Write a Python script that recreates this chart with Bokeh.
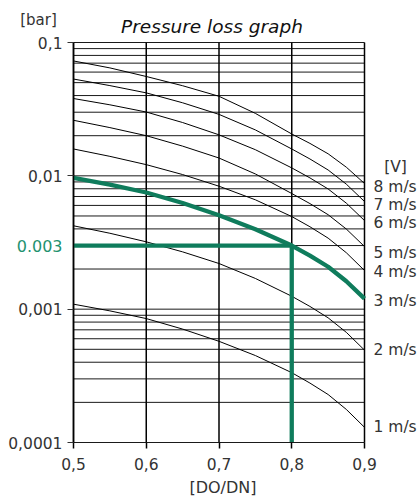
import math
from bokeh.plotting import figure
from bokeh.models import Range1d, FixedTicker, CustomJSTickFormatter, Label
from bokeh.embed import file_html
from bokeh.resources import INLINE

# ---- data ----
ratio = [0.5, 0.55, 0.6, 0.65, 0.7, 0.75, 0.8, 0.825, 0.85, 0.875, 0.9]
loss_8ms = [0.0727, 0.0645, 0.0556, 0.0474, 0.0395, 0.0294, 0.0206, 0.01751, 0.01463, 0.01161, 0.00876]
loss_7ms = [0.0532, 0.0475, 0.0419, 0.0353, 0.0289, 0.0221, 0.0159, 0.01338, 0.01106, 0.00866, 0.00642]
loss_6ms = [0.0380, 0.0341, 0.0301, 0.0251, 0.0203, 0.0157, 0.01147, 0.00965, 0.00797, 0.00624, 0.00462]
loss_5ms = [0.0261, 0.0230, 0.0200, 0.0167, 0.0136, 0.01033, 0.00737, 0.00619, 0.00511, 0.00399, 0.00295]
loss_4ms = [0.0159, 0.0140, 0.01213, 0.01022, 0.00836, 0.00661, 0.00495, 0.00415, 0.00341, 0.00265, 0.00195]
loss_3ms = [0.00966, 0.00858, 0.00750, 0.00626, 0.00507, 0.00398, 0.00300, 0.00252, 0.00208, 0.00162, 0.00120]
loss_2ms = [0.00422, 0.00371, 0.00320, 0.00269, 0.00220, 0.00170, 0.00125, 0.001048, 0.000861, 0.000670, 0.000493]
loss_1ms = [0.00109, 0.000971, 0.000850, 0.000709, 0.000574, 0.000449, 0.000334, 0.000279, 0.000229, 0.000177, 0.000130]

speed_labels = ["8 m/s", "7 m/s", "6 m/s", "5 m/s", "4 m/s", "3 m/s", "2 m/s", "1 m/s"]
x_ticks = [0.5, 0.6, 0.7, 0.8, 0.9]
y_ticks = [0.0001, 0.001, 0.01, 0.1]
grid_steps = [1, 2, 3, 4, 5, 6, 7, 8, 9]

sel_ratio = 0.8
sel_loss = 0.003
sel_label = "0.003"

title_text = "Pressure loss graph"
y_unit = "[bar]"
x_unit = "[DO/DN]"
v_unit = "[V]"

# ---- layout (pixels) ----
W, H = 420, 496
PLOT_L, PLOT_R, PLOT_T, PLOT_B = 73, 364, 42, 442

px_per_x = (PLOT_R - PLOT_L) / (x_ticks[-1] - x_ticks[0])
x_lo = x_ticks[0] - PLOT_L / px_per_x
x_hi = x_ticks[-1] + (W - PLOT_R) / px_per_x
px_per_dec = (PLOT_B - PLOT_T) / math.log10(y_ticks[-1] / y_ticks[0])
y_hi = y_ticks[-1] * 10 ** (PLOT_T / px_per_dec)
y_lo = y_ticks[0] / 10 ** ((H - PLOT_B) / px_per_dec)

# ---- styles ----
FONT = "DejaVu Sans"
TXT = "#333333"
GREEN = "#0f7c5c"
GREEN_TXT = "#1f9270"

p = figure(width=W, height=H, min_border=0,
           x_range=Range1d(x_lo, x_hi), y_range=Range1d(y_lo, y_hi),
           y_axis_type="log",
           output_backend="svg", toolbar_location=None)
p.outline_line_color = None
p.background_fill_color = "white"
p.border_fill_color = "white"
p.xgrid.visible = False
p.ygrid.visible = False

# grid lines restricted to the chart area
grid_vals = [d * s for d in y_ticks[:-1] for s in grid_steps] + [y_ticks[-1]]
p.segment(x0=[x_ticks[0]] * len(grid_vals), y0=grid_vals,
          x1=[x_ticks[-1]] * len(grid_vals), y1=grid_vals,
          line_color="#1a1a1a", line_width=1)
p.segment(x0=x_ticks, y0=[y_ticks[0]] * len(x_ticks),
          x1=x_ticks, y1=[y_ticks[-1]] * len(x_ticks),
          line_color="#000000", line_width=1.5)

fmt = CustomJSTickFormatter(code="return tick.toString().replace('.', ',');")

for ax, ticks in ((p.xaxis, x_ticks), (p.yaxis, y_ticks)):
    ax.ticker = FixedTicker(ticks=ticks, minor_ticks=[])
    ax.formatter = fmt
    ax.major_tick_out = 6
    ax.major_tick_in = 0
    ax.minor_tick_out = 0
    ax.minor_tick_in = 0
    ax.major_label_text_font = FONT
    ax.major_label_text_font_size = "15.5px"
    ax.major_label_text_color = TXT

p.xaxis.fixed_location = y_ticks[0]
p.xaxis.bounds = (x_ticks[0], x_ticks[-1])
p.yaxis.fixed_location = x_ticks[0]
p.yaxis.bounds = (y_ticks[0], y_ticks[-1])

p.xaxis.major_label_standoff = 9
p.xaxis.axis_line_color = "#1a1a1a"
p.xaxis.major_tick_line_color = "#000000"
p.xaxis.major_tick_line_width = 1.5
p.yaxis.major_label_standoff = 5
p.yaxis.axis_line_color = "#000000"
p.yaxis.axis_line_width = 1.5
p.yaxis.major_tick_line_color = "#333333"
p.yaxis.major_tick_line_width = 1

curves = [loss_8ms, loss_7ms, loss_6ms, loss_5ms, loss_4ms, loss_3ms, loss_2ms, loss_1ms]
label_dy = [-4, -4, -2, -6, -2, -2, 0, 0]

for c in curves:
    if c is loss_3ms:
        continue
    p.line(ratio, c, line_color="black", line_width=1, line_join="round")

# selection guide lines
p.line([x_ticks[0], sel_ratio], [sel_loss, sel_loss], line_color=GREEN, line_width=4.3, line_cap="butt")
p.line([sel_ratio, sel_ratio], [y_ticks[0], sel_loss], line_color=GREEN, line_width=4.3, line_cap="butt")
p.line(ratio, loss_3ms, line_color=GREEN, line_width=4.3, line_join="round")


def lab(x, y, text, dx, dy, size, align="center", baseline="middle", color=TXT, style="normal"):
    p.add_layout(Label(x=x, y=y, x_offset=dx, y_offset=dy, text=text,
                       text_font=FONT, text_font_size=size, text_color=color,
                       text_font_style=style, text_align=align, text_baseline=baseline))


for c, t, dy in zip(curves, speed_labels, label_dy):
    lab(ratio[-1], c[-1], t, 9, dy, "15.5px", align="left")

lab(ratio[-1], y_ticks[2], v_unit, 31, 9, "15.5px")
lab(x_ticks[0], sel_loss, sel_label, -11, 0, "16px", align="right", color=GREEN_TXT)
lab(x_ticks[0], y_ticks[-1], y_unit, -35, 23, "15px")
lab(x_ticks[2], y_ticks[-1], title_text, -7, 16, "18.5px", baseline="alphabetic",
    color="#111111", style="italic")
lab(x_ticks[2], y_ticks[0], x_unit, 4, -45, "16px")

open("out.html", "w").write(file_html(p, INLINE))
